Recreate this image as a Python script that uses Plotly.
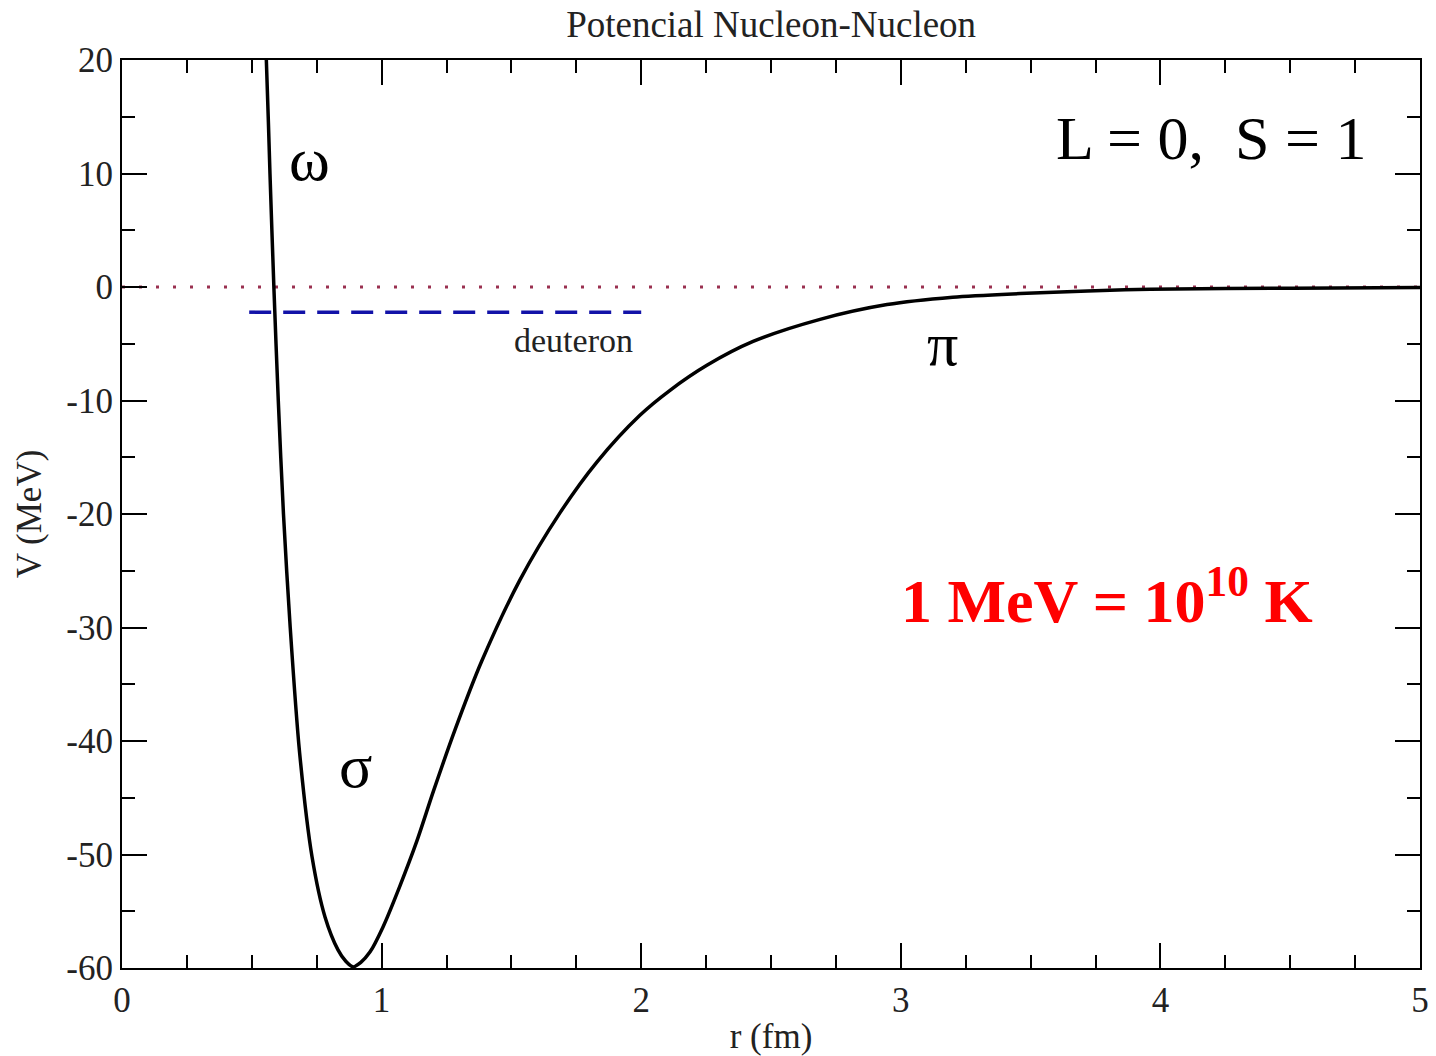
import plotly.graph_objects as go

# Potential curve V(r)
r_vals = [0.553, 0.556, 0.570, 0.585, 0.602, 0.622, 0.648, 0.684, 0.732, 0.782, 0.832,
          0.862, 0.89, 0.92, 0.955, 1.005, 1.07, 1.136, 1.20, 1.283, 1.385, 1.533, 1.687,
          1.83, 1.995, 2.111, 2.253, 2.431, 2.689, 2.947, 3.2, 3.46, 3.72,
          3.96, 4.51, 5.0]
v_vals = [21.0, 20.0, 10.0, 0.0, -10.0, -20.0, -30.0, -41.0, -50.2, -55.5, -58.4,
          -59.4, -59.9, -59.5, -58.6, -56.4, -52.8, -48.8, -44.4, -39.0, -33.0, -25.8, -19.9,
          -15.4, -11.3, -9.1, -6.9, -4.8, -2.85, -1.55, -0.9, -0.58, -0.35,
          -0.2, -0.1, -0.05]

zero_r = [0.0, 5.0]
zero_v = [0.0, 0.0]

deut_r = [0.49, 2.0]
deut_v = [-2.22, -2.22]

x_ticks = [0, 1, 2, 3, 4, 5]
y_ticks = [20, 10, 0, -10, -20, -30, -40, -50, -60]

SERIF = "Liberation Serif, Times New Roman, serif"

fig = go.Figure()
fig.add_trace(go.Scatter(x=zero_r, y=zero_v, mode="lines",
                         line=dict(color="#9a3050", width=3, dash="3px,14px"),
                         hoverinfo="skip", showlegend=False))
fig.add_trace(go.Scatter(x=deut_r, y=deut_v, mode="lines",
                         line=dict(color="#1212a8", width=3.5, dash="22px,12px"),
                         hoverinfo="skip", showlegend=False))
fig.add_trace(go.Scatter(x=r_vals, y=v_vals, mode="lines",
                         line=dict(color="black", width=3.5, shape="spline", smoothing=0.8),
                         showlegend=False))

annos = [
    dict(x=0.724, y=11.3, text="ω", size=62, color="black"),
    dict(x=0.898, y=-42.2, text="σ", size=62, color="black"),
    dict(x=3.159, y=-5.0, text="π", size=62, color="black"),
    dict(x=1.741, y=-4.67, text="deuteron", size=34, color="#222222"),
    dict(x=4.195, y=13.1, text="L = 0,&nbsp;&nbsp;S = 1", size=62, color="black"),
    dict(x=3.794, y=-27.2, text="<b>1 MeV = 10<sup>10</sup> K</b>", size=62, color="#ff0000"),
]
for a in annos:
    fig.add_annotation(x=a["x"], y=a["y"], xref="x", yref="y", text=a["text"],
                       showarrow=False, xanchor="center", yanchor="middle",
                       font=dict(family=SERIF, size=a["size"], color=a["color"]))

axis_common = dict(
    showline=True, linecolor="black", linewidth=2, mirror="allticks",
    ticks="inside", ticklen=25, tickwidth=2, tickcolor="black",
    showgrid=False, zeroline=False,
    tickfont=dict(family=SERIF, size=35, color="#222222"),
)

fig.update_xaxes(range=[0, 5], tickvals=x_ticks, ticktext=[str(t) for t in x_ticks],
                 minor=dict(ticks="inside", ticklen=13, tickwidth=2, tickcolor="black", dtick=0.25),
                 title=dict(text="r (fm)", font=dict(family=SERIF, size=35, color="#222222"), standoff=8),
                 **axis_common)
fig.update_yaxes(range=[-60, 20], tickvals=y_ticks, ticktext=[str(t) for t in y_ticks],
                 minor=dict(ticks="inside", ticklen=13, tickwidth=2, tickcolor="black", dtick=5),
                 title=dict(text="V (MeV)", font=dict(family=SERIF, size=35, color="#222222"), standoff=14),
                 **axis_common)

fig.update_layout(
    width=1436, height=1056,
    margin=dict(l=122, r=16, t=60, b=88, autoexpand=False),
    paper_bgcolor="white", plot_bgcolor="white",
    title=dict(text="Potencial Nucleon-Nucleon", x=0.537, xanchor="center", y=0.977, yanchor="middle",
               font=dict(family=SERIF, size=37, color="#222222")),
)

fig.write_html("out.html")
